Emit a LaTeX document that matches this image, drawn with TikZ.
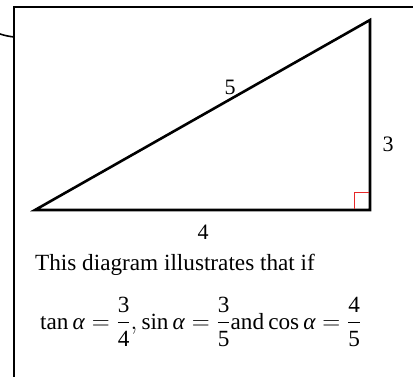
\documentclass[tikz,border=0pt]{standalone}
\usepackage{amsmath}
\usepackage{fontspec}
\setmainfont{Liberation Serif}
\usepackage{tikz}
\usetikzlibrary{positioning}
\definecolor{rightred}{RGB}{230,40,40}

\tikzset{
  side/.style={font=\fontsize{22}{24}\selectfont, inner sep=1pt},
  leg/.style={line width=2.6pt, line join=miter},
  frameline/.style={line width=1.6pt}
}
\newcommand{\num}[1]{\text{#1}}

\begin{document}
\begin{tikzpicture}[x=1pt, y=-1pt]
\useasboundingbox (0,0) rectangle (413,376);
% frame, open to the right and below
\draw[frameline] (420,7) -- (14,7) -- (14,380);
\coordinate (tick) at (0,34);
\draw[frameline] (tick) to[bend right=5] (14,37);

% triangle
\coordinate (A) at (35,210);
\coordinate (B) at (370,210);
\coordinate (C) at (370,20);
\draw[leg] (A) -- (B) -- (C) -- cycle;
\draw[rightred, line width=1pt] ([xshift=-16pt,yshift=1.3pt]B) -- ++(0,-16) -- ++(14.7,0);

\node[side] (hyp) at (230,87) {5};
\node[side] (opp) at (388,144) {3};
\node[side] (adj) at (203,232) {4};

% caption
\node[side, anchor=base west, font=\fontsize{23.2}{27}\selectfont] (caption) at (34,270) {This diagram illustrates that if};
\node[anchor=base west, font=\fontsize{23.2}{27}\selectfont, inner sep=0pt] (ratios) at (40,329)
  {$\tan\textit{α}=\dfrac{\num{3}}{\num{4}}{,}\sin\textit{α}=\dfrac{\num{3}}{\num{5}}\text{and}\cos\textit{α}=\dfrac{\num{4}}{\num{5}}$};
\end{tikzpicture}
\end{document}
